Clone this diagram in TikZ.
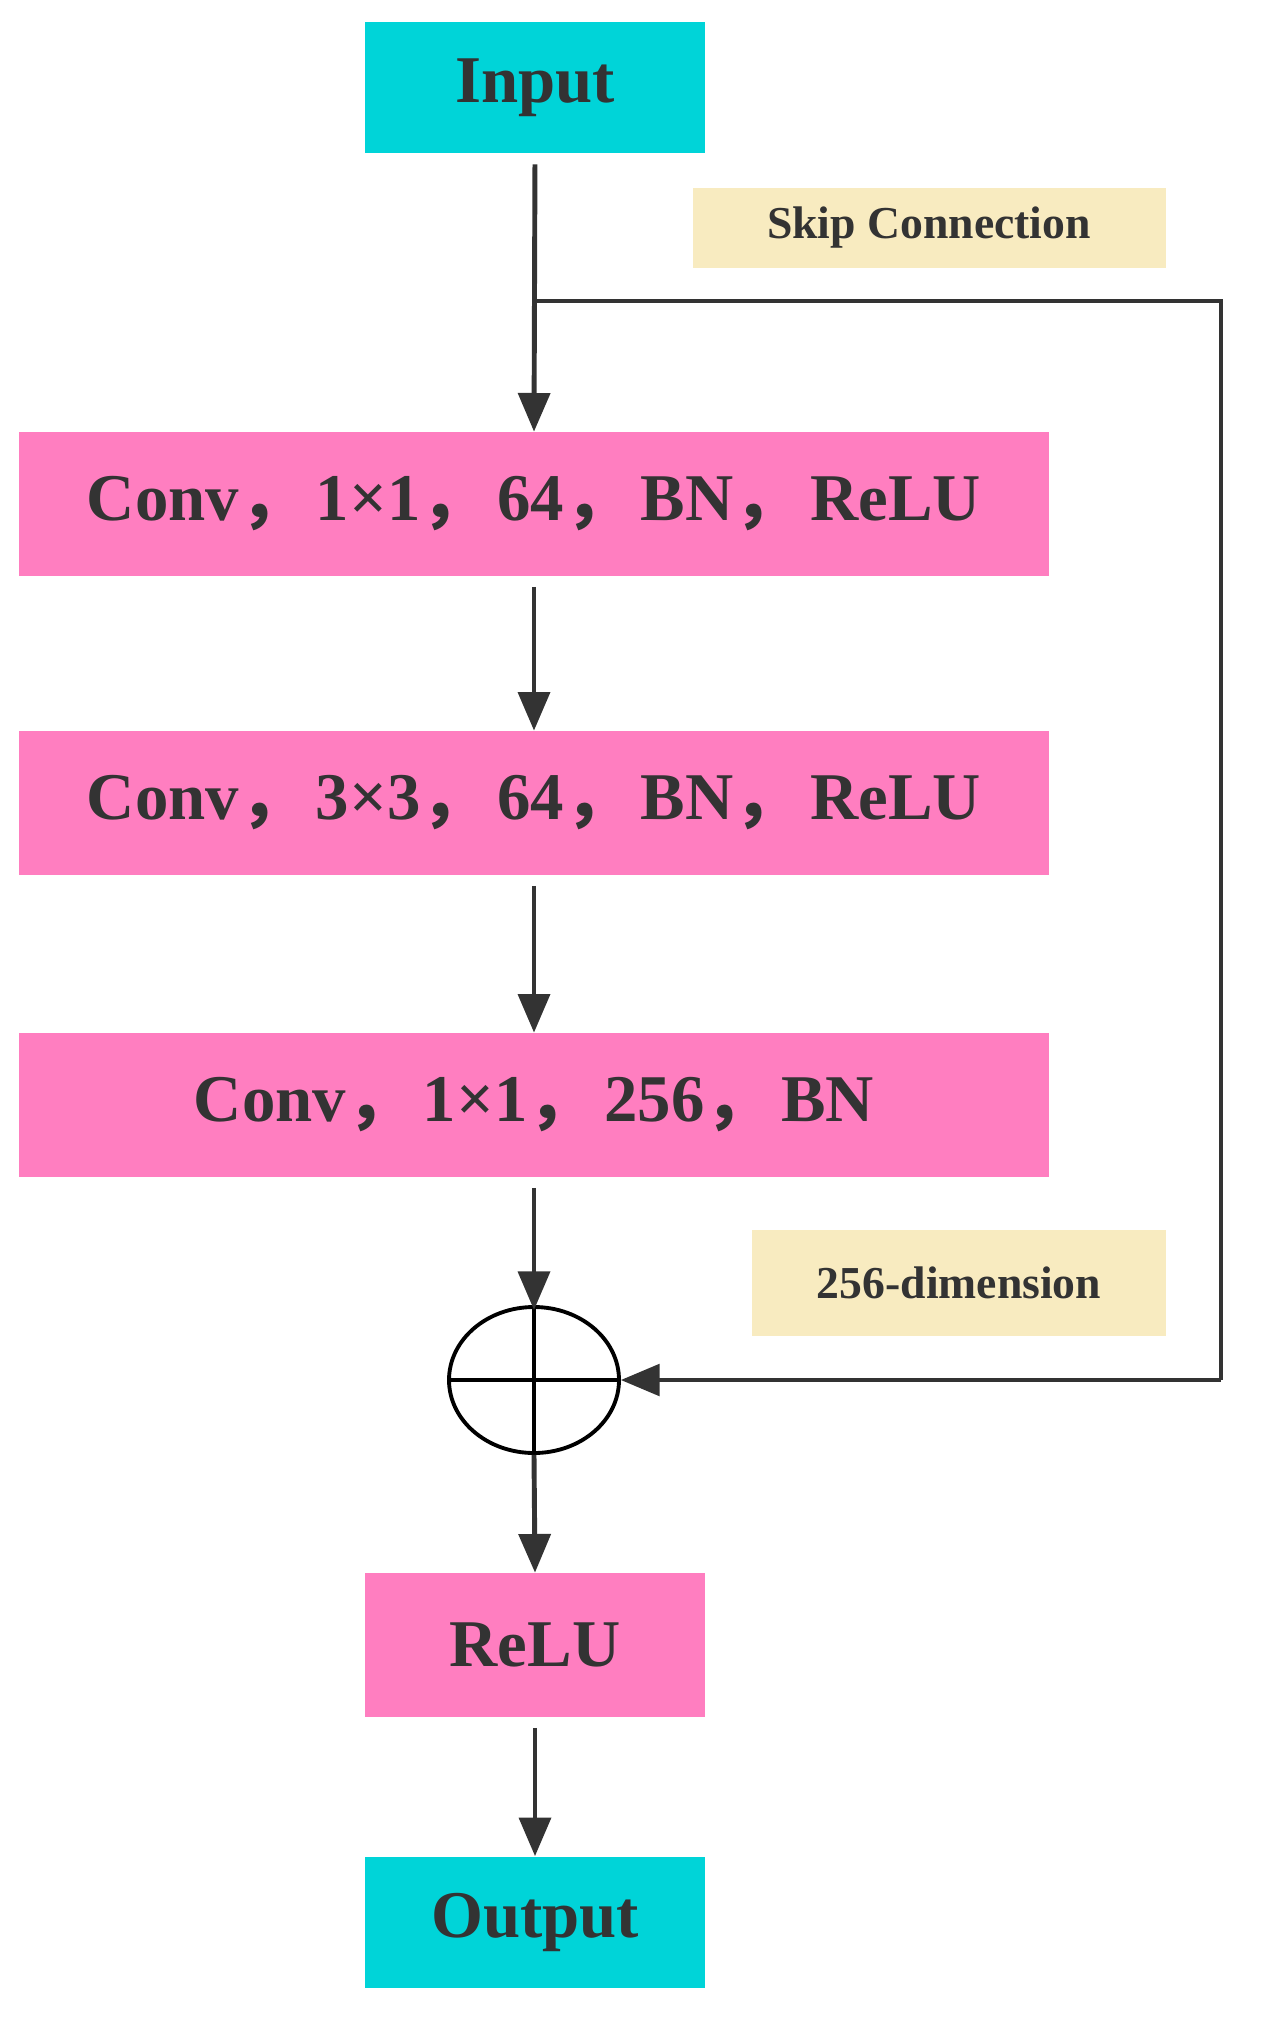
\documentclass[tikz,border=0pt]{standalone}
\usepackage{fontspec}
\setmainfont{Liberation Serif}
\newfontfamily\cjk{Noto Sans CJK SC}
\usetikzlibrary{arrows.meta,shapes.geometric}
\newcommand{\cm}{{\cjk\bfseries ，}\hspace{0.15em}}
\definecolor{cyanbox}{HTML}{00D4D8}
\definecolor{pinkbox}{HTML}{FF7EC0}
\definecolor{beigebox}{HTML}{F8EBC0}
\definecolor{linec}{HTML}{333333}
\tikzset{
  ioBox/.style={fill=cyanbox,minimum width=340*0.02cm,minimum height=131*0.02cm,font=\fontsize{38}{40}\selectfont\bfseries,text=linec},
  convBox/.style={fill=pinkbox,minimum width=1030*0.02cm,minimum height=144*0.02cm,font=\fontsize{38}{40}\selectfont\bfseries,text=linec},
  reluBox/.style={fill=pinkbox,minimum width=340*0.02cm,minimum height=144*0.02cm,font=\fontsize{38}{40}\selectfont\bfseries,text=linec},
  lblBox/.style={fill=beigebox,font=\fontsize{26}{28}\selectfont\bfseries,text=linec},
  arr/.style={draw=linec,line width=2.8pt,-{Triangle[length=22pt,width=18pt]},shorten <=6pt},
  skip/.style={draw=linec,line width=2pt}
}
\begin{document}
\begin{tikzpicture}[x=0.02cm,y=-0.02cm]
\useasboundingbox (0,0) rectangle (1272,2024);
\node[ioBox] (in) at (535,88) {Input};
\node[lblBox,minimum width=473*0.02cm,minimum height=79*0.02cm] (sk) at (929,228) {Skip Connection};
\node[convBox] (c1) at (534,504) {Conv\cm 1×1\cm 64\cm BN\cm ReLU};
\node[convBox] (c2) at (534,803) {Conv\cm 3×3\cm 64\cm BN\cm ReLU};
\node[convBox] (c3) at (534,1105) {Conv\cm 1×1\cm 256\cm BN};
\node[lblBox,minimum width=414*0.02cm,minimum height=106*0.02cm] (dim) at (959,1283) {256-dimension};
\node[draw=black,line width=2.2pt,ellipse,minimum width=170*0.02cm,minimum height=146*0.02cm,inner sep=0] (plus) at (534,1380) {};
\draw[black,line width=2.2pt] (plus.north) -- (plus.south) (plus.west) -- (plus.east);
\node[reluBox] (relu) at (535,1645) {ReLU};
\node[ioBox] (out) at (535,1922) {Output};
\coordinate (j) at (534,301);
\coordinate (r1) at (1221,301);
\coordinate (r2) at (1221,1380);
\draw[arr] (in.south) -- (c1.north);
\draw[arr] (c1.south) -- (c2.north);
\draw[arr] (c2.south) -- (c3.north);
\draw[arr] (c3.south) -- (534,1310);
\draw[arr,shorten <=0pt] (plus.south) -- (relu.north);
\draw[arr] (relu.south) -- (out.north);
\draw[skip] (j) -- (r1) -- (r2);
\draw[skip,-{Triangle[length=22pt,width=18pt]}] (r2) -- (plus.east);
\end{tikzpicture}
\end{document}
